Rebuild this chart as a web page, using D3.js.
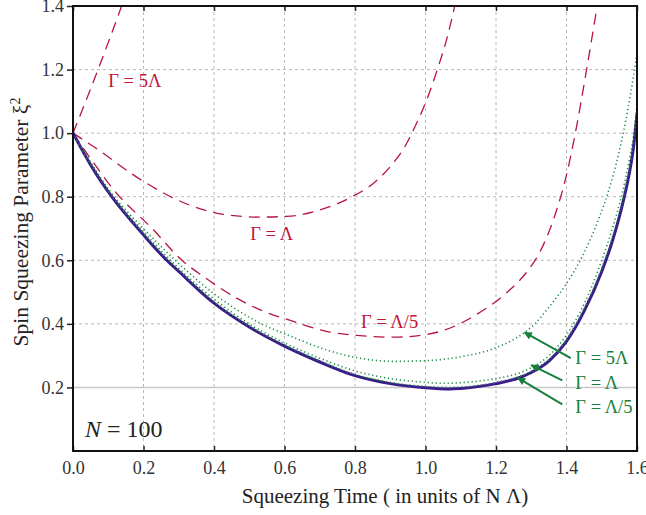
<!DOCTYPE html>
<html>
<head>
<meta charset="utf-8">
<script src="https://cdnjs.cloudflare.com/ajax/libs/d3/7.8.5/d3.min.js"></script>
<style>
  body { margin: 0; background: #fff; }
  svg text { font-family: 'Liberation Serif', 'DejaVu Serif', serif; }
</style>
</head>
<body>
<svg id="chart" width="646" height="515"></svg>
<script>
// ---- data ([time, xi^2]) ----
var xTicks = [0, 0.2, 0.4, 0.6, 0.8, 1.0, 1.2, 1.4, 1.6];
var yTicks = [0.2, 0.4, 0.6, 0.8, 1.0, 1.2, 1.4];

// ideal, no decoherence (solid purple)
var ideal = [[0, 1.0], [0.05, 0.9], [0.11, 0.8], [0.2, 0.68], [0.266, 0.6], [0.3, 0.565], [0.4, 0.465],
  [0.5, 0.39], [0.6, 0.33], [0.7, 0.28], [0.8, 0.237], [0.9, 0.212], [1.0, 0.199], [1.07, 0.195],
  [1.1, 0.197], [1.2, 0.212], [1.27, 0.232], [1.3, 0.247], [1.35, 0.283], [1.4, 0.345], [1.45, 0.44],
  [1.5, 0.565], [1.53, 0.66], [1.564, 0.8], [1.58, 0.885], [1.59, 0.955], [1.6, 1.06]];

// green dotted
var greenLow = [[0, 1.0], [0.05, 0.902], [0.11, 0.803], [0.2, 0.684], [0.3, 0.569], [0.4, 0.47],
  [0.5, 0.394], [0.6, 0.334], [0.7, 0.284], [0.8, 0.241], [0.9, 0.216], [1.0, 0.203], [1.07, 0.2],
  [1.1, 0.201], [1.2, 0.216], [1.27, 0.236], [1.3, 0.251], [1.35, 0.288], [1.4, 0.351], [1.45, 0.448],
  [1.5, 0.575], [1.53, 0.672], [1.564, 0.815], [1.58, 0.9], [1.59, 0.972], [1.6, 1.075]];
var greenMid = [[0, 1.0], [0.11, 0.805], [0.2, 0.69], [0.3, 0.575], [0.4, 0.478], [0.5, 0.4],
  [0.6, 0.34], [0.7, 0.292], [0.8, 0.252], [0.9, 0.228], [1.0, 0.216], [1.05, 0.213], [1.1, 0.215],
  [1.2, 0.228], [1.27, 0.247], [1.3, 0.262], [1.35, 0.3], [1.4, 0.365], [1.45, 0.463], [1.5, 0.6],
  [1.53, 0.7], [1.559, 0.815], [1.577, 0.91], [1.59, 0.99], [1.6, 1.09]];
var greenHigh = [[0, 1.0], [0.11, 0.81], [0.2, 0.7], [0.3, 0.59], [0.4, 0.495], [0.531, 0.402],
  [0.625, 0.358], [0.719, 0.318], [0.814, 0.292], [0.908, 0.282], [1.0, 0.284], [1.097, 0.296],
  [1.2, 0.325], [1.281, 0.373], [1.31, 0.4], [1.352, 0.455], [1.399, 0.525], [1.446, 0.615],
  [1.493, 0.735], [1.517, 0.81], [1.55, 0.945], [1.575, 1.08], [1.6, 1.25]];

// red dashed
var redFifth = [[0, 1.0], [0.05, 0.92], [0.115, 0.822], [0.228, 0.696], [0.309, 0.6], [0.37, 0.549],
  [0.45, 0.49], [0.531, 0.444], [0.625, 0.408], [0.719, 0.376], [0.814, 0.363], [0.908, 0.358],
  [1.0, 0.366], [1.041, 0.376], [1.097, 0.4], [1.135, 0.423], [1.229, 0.497], [1.285, 0.56],
  [1.323, 0.623], [1.366, 0.738], [1.399, 0.864], [1.425, 1.0], [1.457, 1.2], [1.487, 1.4]];
var redOne = [[0, 1.0], [0.058, 0.958], [0.2, 0.848], [0.342, 0.769], [0.436, 0.743], [0.53, 0.736],
  [0.606, 0.738], [0.7, 0.758], [0.795, 0.802], [0.85, 0.84], [0.9, 0.895], [0.94, 0.955],
  [0.97, 1.02], [1.0, 1.095], [1.032, 1.195], [1.06, 1.295], [1.083, 1.4]];
var redFive = [[0, 1.0], [0.036, 1.1], [0.071, 1.2], [0.105, 1.3], [0.138, 1.4]];

var svg = d3.select('#chart');
var pL = 73, pR = 637, pT = 6, pB = 451;

var x = d3.scaleLinear().domain([0, 1.6]).range([pL, pR]);
var y = d3.scaleLinear().domain([0, 1.4]).range([pB, pT]);

var defs = svg.append('defs');
defs.append('clipPath').attr('id', 'plotClip')
  .append('rect')
  .attr('x', pL).attr('y', pT)
  .attr('width', pR - pL).attr('height', pB - pT);

// grid
svg.append('g').selectAll('line')
  .data(xTicks.filter(function(d) { return d > 0 && d < 1.6; }))
  .enter().append('line')
  .attr('x1', function(d) { return x(d); }).attr('x2', function(d) { return x(d); })
  .attr('y1', pT).attr('y2', pB)
  .style('stroke', '#b8b8b8').style('stroke-width', 1).style('stroke-dasharray', '3,3');

svg.append('g').selectAll('line')
  .data(yTicks.filter(function(d) { return d < 1.4; }))
  .enter().append('line')
  .attr('x1', pL).attr('x2', pR)
  .attr('y1', function(d) { return y(d); }).attr('y2', function(d) { return y(d); })
  .style('stroke', function(d) { return d === 0.2 ? '#c8c8c8' : '#b8b8b8'; })
  .style('stroke-width', function(d) { return d === 0.2 ? 1.5 : 1; })
  .style('stroke-dasharray', function(d) { return d === 0.2 ? null : '3,3'; });

// axes
var fmt = d3.format('.1f');
var xAxis = svg.append('g')
  .attr('transform', 'translate(0,' + pB + ')')
  .call(d3.axisBottom(x).tickValues(xTicks).tickFormat(fmt).tickSize(-5).tickPadding(10));
var xAxisTop = svg.append('g')
  .attr('transform', 'translate(0,' + pT + ')')
  .call(d3.axisTop(x).tickValues(xTicks).tickFormat('').tickSize(-5));
var yAxis = svg.append('g')
  .attr('transform', 'translate(' + pL + ',0)')
  .call(d3.axisLeft(y).tickValues(yTicks).tickFormat(fmt).tickSize(6).tickPadding(3));

[xAxis, xAxisTop, yAxis].forEach(function(a) {
  a.select('.domain').remove();
  a.selectAll('.tick line').style('stroke', '#222').style('stroke-width', 1.5);
  a.selectAll('.tick text')
    .style('font-family', "'Liberation Serif', serif")
    .style('font-size', '18px')
    .style('fill', '#333');
});

// curves
var line = d3.line()
  .x(function(d) { return x(d[0]); })
  .y(function(d) { return y(d[1]); })
  .curve(d3.curveMonotoneX);

var plot = svg.append('g').attr('clip-path', 'url(#plotClip)');

var series = [
  { data: redFive, color: '#b5173c', width: 1.3, dash: '11,7' },
  { data: redOne, color: '#b5173c', width: 1.3, dash: '11,7' },
  { data: redFifth, color: '#b5173c', width: 1.3, dash: '11,7' },
  { data: greenHigh, color: '#1f8a45', width: 1.6, dash: '1.2,2.8' },
  { data: greenMid, color: '#1f8a45', width: 1.6, dash: '1.2,2.8' },
  { data: ideal, color: '#3b1a8c', width: 3, dash: null },
  { data: greenLow, color: '#1f8a45', width: 1.6, dash: '1.2,2.8' }
];

plot.selectAll('path.curve')
  .data(series)
  .enter().append('path')
  .attr('class', 'curve')
  .attr('d', function(d) { return line(d.data); })
  .style('fill', 'none')
  .style('stroke', function(d) { return d.color; })
  .style('stroke-width', function(d) { return d.width; })
  .style('stroke-dasharray', function(d) { return d.dash; });

// frame
svg.append('rect')
  .attr('x', pL).attr('y', pT)
  .attr('width', pR - pL).attr('height', pB - pT)
  .style('fill', 'none').style('stroke', '#111').style('stroke-width', 2);

// red labels
var redLabels = [
  { text: 'Γ = 5Λ', t: 0.1, v: 1.145 },
  { text: 'Γ = Λ', t: 0.503, v: 0.665 },
  { text: 'Γ = Λ/5', t: 0.817, v: 0.388 }
];
svg.selectAll('text.redLab')
  .data(redLabels)
  .enter().append('text')
  .attr('class', 'redLab')
  .attr('x', function(d) { return x(d.t); })
  .attr('y', function(d) { return y(d.v); })
  .style('font-size', '18.5px')
  .style('fill', '#c0143c')
  .text(function(d) { return d.text; });

// green labels with arrows
var greenLabels = [
  { text: 'Γ = 5Λ', tx: 1.425, ty: 0.275, from: [1.412, 0.292], to: [1.281, 0.373] },
  { text: 'Γ = Λ', tx: 1.425, ty: 0.196, from: [1.388, 0.222], to: [1.3, 0.27] },
  { text: 'Γ = Λ/5', tx: 1.425, ty: 0.12, from: [1.388, 0.147], to: [1.262, 0.23] }
];

defs.append('marker')
  .attr('id', 'arrowHead')
  .attr('viewBox', '0 0 10 10')
  .attr('refX', 9).attr('refY', 5)
  .attr('markerWidth', 5).attr('markerHeight', 4)
  .attr('markerUnits', 'strokeWidth')
  .attr('orient', 'auto')
  .append('path')
  .attr('d', 'M0,0 L10,5 L0,10 z')
  .style('fill', '#16803c');

svg.selectAll('line.arrow')
  .data(greenLabels)
  .enter().append('line')
  .attr('class', 'arrow')
  .attr('x1', function(d) { return x(d.from[0]); })
  .attr('y1', function(d) { return y(d.from[1]); })
  .attr('x2', function(d) { return x(d.to[0]); })
  .attr('y2', function(d) { return y(d.to[1]); })
  .style('stroke', '#16803c')
  .style('stroke-width', 2)
  .attr('marker-end', 'url(#arrowHead)');

svg.selectAll('text.greenLab')
  .data(greenLabels)
  .enter().append('text')
  .attr('class', 'greenLab')
  .attr('x', function(d) { return x(d.tx); })
  .attr('y', function(d) { return y(d.ty); })
  .style('font-size', '18.5px')
  .style('fill', '#16803c')
  .text(function(d) { return d.text; });

// N = 100
var nLab = svg.append('text')
  .attr('x', 85).attr('y', 437)
  .style('font-size', '24px')
  .style('fill', '#222');
nLab.append('tspan').style('font-style', 'italic').text('N');
nLab.append('tspan').text(' = 100');

// axis titles
svg.append('text')
  .attr('x', 385).attr('y', 503)
  .style('text-anchor', 'middle')
  .style('font-size', '21px')
  .style('fill', '#222')
  .text('Squeezing Time ( in units of N Λ)');

var yTitle = svg.append('text')
  .attr('transform', 'translate(28,222) rotate(-90)')
  .style('text-anchor', 'middle')
  .style('font-size', '21.5px')
  .style('fill', '#222');
yTitle.append('tspan').text('Spin Squeezing Parameter ξ');
yTitle.append('tspan').attr('dy', -8).style('font-size', '14px').text('2');
</script>
</body>
</html>
